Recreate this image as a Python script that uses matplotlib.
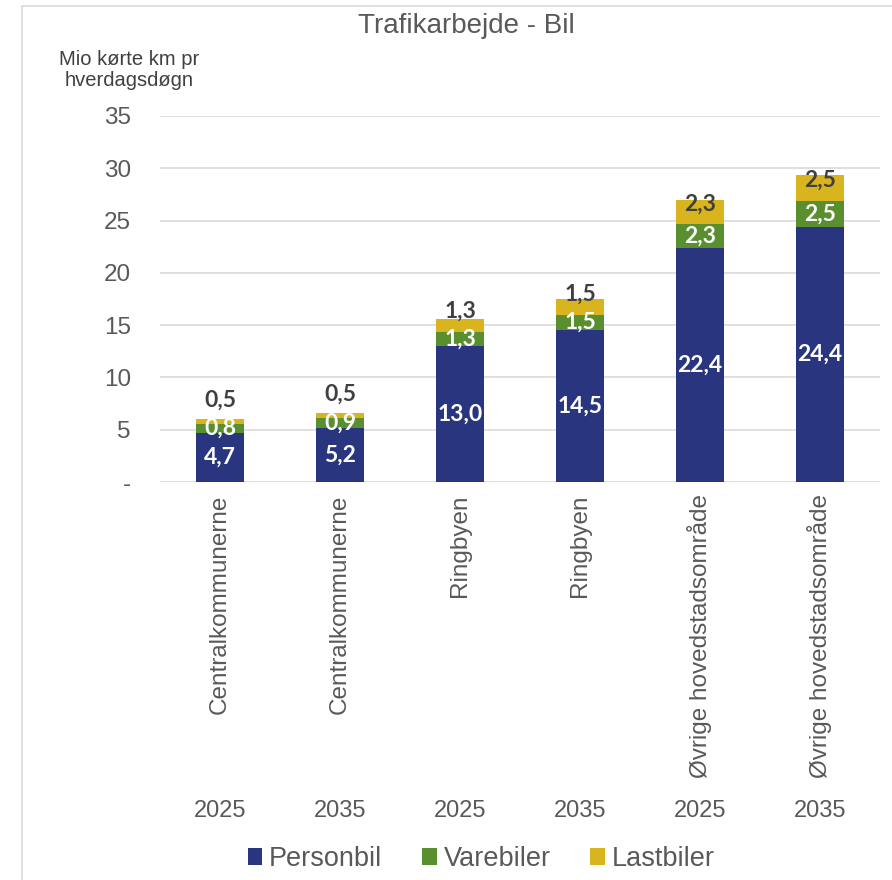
import matplotlib

matplotlib.use("Agg")
import matplotlib.pyplot as plt
from matplotlib.patches import Rectangle
import numpy as np

areas = ["Centralkommunerne", "Centralkommunerne", "Ringbyen", "Ringbyen",
         "Øvrige hovedstadsområde", "Øvrige hovedstadsområde"]
years = ["2025", "2035", "2025", "2035", "2025", "2035"]
personbil = [4.7, 5.2, 13.0, 14.5, 22.4, 24.4]
varebiler = [0.8, 0.9, 1.3, 1.5, 2.3, 2.5]
lastbiler = [0.5, 0.5, 1.3, 1.5, 2.3, 2.5]
yticks = [0, 5, 10, 15, 20, 25, 30, 35]

C_PERS = "#29367f"
C_VARE = "#5a8f30"
C_LAST = "#d8b41e"
GREY = "#595959"

plt.rcParams["font.family"] = ["Liberation Sans", "DejaVu Sans"]

fig = plt.figure(figsize=(8.92, 8.8), dpi=100)
fig.patches.append(Rectangle((22 / 892, -0.01), 1.0, 1 - 6 / 880 + 0.01,
                             transform=fig.transFigure, fill=False,
                             edgecolor="#d9d9d9", lw=1.2))
ax = fig.add_axes([160 / 892, 1 - 482 / 880, 720 / 892, 366 / 880])

x = np.arange(len(areas))
w = 0.4
pers = np.array(personbil)
vare = np.array(varebiler)
last = np.array(lastbiler)

ax.bar(x, pers, w, color=C_PERS, label="Personbil", zorder=3)
ax.bar(x, vare, w, bottom=pers, color=C_VARE, label="Varebiler", zorder=3)
ax.bar(x, last, w, bottom=pers + vare, color=C_LAST, label="Lastbiler", zorder=3)

lbl = dict(ha="center", va="center", fontsize=16.5, fontweight="bold",
           family=["Lato", "DejaVu Sans"], zorder=4)
for i in range(len(x)):
    ax.text(x[i], pers[i] / 2, f"{pers[i]:.1f}".replace(".", ","), color="white", **lbl)
    vmid = pers[i] + vare[i] / 2
    ax.text(x[i], vmid, f"{vare[i]:.1f}".replace(".", ","), color="white", **lbl)
    lmid = pers[i] + vare[i] + last[i] / 2
    ax.text(x[i], max(lmid + 0.75, vmid + 2.7), f"{last[i]:.1f}".replace(".", ","),
            color="#404040", **lbl)

ax.set_xlim(-0.5, len(x) - 0.5)
ax.set_ylim(0, 35)
ax.set_yticks(yticks)
ax.set_yticklabels(["-" if t == 0 else str(t) for t in yticks])
ax.tick_params(axis="y", length=0, pad=21, labelsize=17.5, labelcolor=GREY)
ax.set_xticks(x)
ax.set_xticklabels(areas, rotation=90, va="top", ha="center")
ax.tick_params(axis="x", length=0, pad=9, labelsize=17.5, labelcolor=GREY)
ax.grid(axis="y", color="#d9d9d9", lw=1.2, zorder=0)
for s in ax.spines.values():
    s.set_visible(False)

for i, yr in enumerate(years):
    ax.annotate(yr, xy=(x[i], 0), xycoords=("data", "figure fraction"),
                xytext=(0, 880 - 811), textcoords="offset pixels",
                ha="center", va="center", fontsize=17, color=GREY)

fig.text(466 / 892, 1 - 26 / 880, "Trafikarbejde - Bil", ha="center", va="center",
         fontsize=20, color=GREY)
fig.text(129 / 892, 1 - 70 / 880, "Mio kørte km pr\nhverdagsdøgn", ha="center",
         va="center", fontsize=14.5, color="#404040", linespacing=1.15)

fig.legend(loc="center", bbox_to_anchor=(481 / 892, 1 - 859 / 880), ncol=3,
           frameon=False, fontsize=19.5, handlelength=0.55, handleheight=0.55,
           handletextpad=0.25, columnspacing=1.45, labelcolor=GREY)

fig.savefig("out.png", dpi=100)
